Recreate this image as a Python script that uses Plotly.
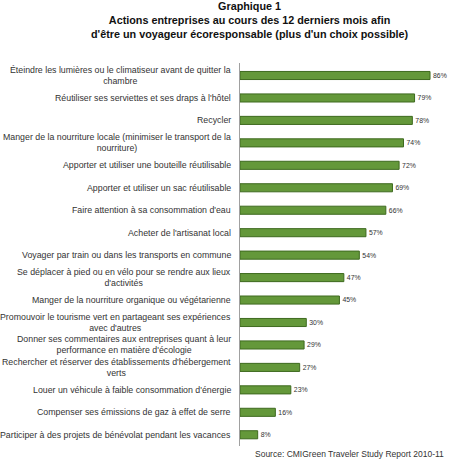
import plotly.graph_objects as go

categories = [
    "Éteindre les lumières ou le climatiseur avant de quitter la<br>chambre",
    "Réutiliser ses serviettes et ses draps à l'hôtel",
    "Recycler",
    "Manger de la nourriture locale (minimiser le transport de la<br>nourriture)",
    "Apporter et utiliser une bouteille réutilisable",
    "Apporter et utiliser un sac réutilisable",
    "Faire attention à sa consommation d'eau",
    "Acheter de l'artisanat local",
    "Voyager par train ou dans les transports en commune",
    "Se déplacer à pied ou en vélo pour se rendre aux lieux<br>d'activités",
    "Manger de la nourriture organique ou végétarienne",
    "Promouvoir le tourisme vert en partageant ses expériences<br>avec d'autres",
    "Donner ses commentaires aux entreprises quant à leur<br>performance en matière d'écologie",
    "Rechercher et réserver des établissements d'hébergement<br>verts",
    "Louer un véhicule à faible consommation d'énergie",
    "Compenser ses émissions de gaz à effet de serre",
    "Participer à des projets de bénévolat pendant les vacances",
]
values = [86, 79, 78, 74, 72, 69, 66, 57, 54, 47, 45, 30, 29, 27, 23, 16, 8]
value_labels = [f"{v}%" for v in values]

title_text = ("<b>Graphique 1</b><br><b>Actions entreprises au cours des 12 derniers mois afin</b><br>"
              "<b>d'être un voyageur écoresponsable (plus d'un choix possible)</b>")
source_text = "Source: CMIGreen Traveler Study Report 2010-11"

fig = go.Figure()
fig.add_trace(go.Bar(
    x=values, y=categories, orientation="h",
    marker=dict(color="#64983a", line=dict(color="#3e6a1f", width=1)),
    text=value_labels, textposition="outside",
    textfont=dict(family="Liberation Sans, Arial", size=8.5, color="#333333"),
    cliponaxis=False, width=0.36,
))

annotations = []
for c in categories:
    annotations.append(dict(
        x=0, xref="paper", xshift=-7, xanchor="right",
        y=c, yref="y", yanchor="middle",
        text=c, showarrow=False, align="center",
        font=dict(family="Liberation Sans, Arial", size=8.8, color="#333333"),
    ))
annotations.append(dict(
    x=(250 - 240) / 215, xref="paper", xanchor="center",
    y=1, yref="paper", yshift=21, yanchor="bottom",
    text=title_text, showarrow=False, align="center",
    font=dict(family="Liberation Sans, Arial", size=10.8, color="#111111"),
))
annotations.append(dict(
    x=1, xref="paper", xshift=-9, xanchor="right",
    y=0, yref="paper", yshift=-8, yanchor="middle",
    text=source_text, showarrow=False,
    font=dict(family="Liberation Sans, Arial", size=8.5, color="#333333"),
))

fig.update_layout(
    width=455, height=461,
    margin=dict(l=240, r=0, t=63, b=15),
    paper_bgcolor="white", plot_bgcolor="white",
    showlegend=False,
    annotations=annotations,
    xaxis=dict(range=[0, 97.3], visible=False, fixedrange=True),
    yaxis=dict(autorange="reversed", showticklabels=False, showline=True,
               linecolor="#a0a0a0", linewidth=1, ticks="", showgrid=False),
)

fig.write_html("out.html")
